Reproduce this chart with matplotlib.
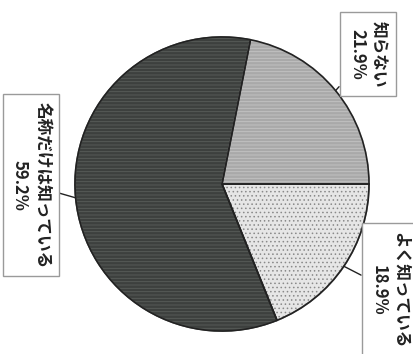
import numpy as np
import matplotlib
matplotlib.use("Agg")
import matplotlib.pyplot as plt
from matplotlib.patches import Wedge

plt.rcParams['font.family'] = ['Noto Sans CJK JP', 'DejaVu Sans']
plt.rcParams['hatch.linewidth'] = 0.6

# Survey answers (clockwise from 3 o'clock)
labels = ['よく知っている', '名称だけは知っている', '知らない']
values = [18.9, 59.2, 21.9]
colors = ['#e6e6e6', '#3d403e', '#a9a9a9']
hatches = ['....', '-----', '-----']
hatch_colors = ['#8a8a8a', '#5a5e5b', '#c4c4c4']

W, H = 414, 354
fig = plt.figure(figsize=(W / 100, H / 100), dpi=100)
ax = fig.add_axes([0, 0, 1, 1])

cx, cy, r = 222, 170, 147
wedges, _ = ax.pie(values, startangle=0, counterclock=False,
                   center=(cx, cy), radius=r, colors=colors,
                   wedgeprops=dict(edgecolor='#222222', linewidth=1.2))
for w, h, hc in zip(wedges, hatches, hatch_colors):
    w.set_hatch(h)
    w.set_edgecolor(hc)
    # dark outline drawn over the hatched face
    ax.add_patch(Wedge((cx, cy), r, w.theta1, w.theta2, facecolor='none',
                       edgecolor='#222222', linewidth=1.2))

ax.set_xlim(0, W)
ax.set_ylim(0, H)
ax.set_aspect('equal')
ax.axis('off')

# label box centres
box_pos = [(390, 64), (31, 169), (368, 300)]
for w, lab, val, pos in zip(wedges, labels, values, box_pos):
    mid = np.deg2rad((w.theta1 + w.theta2) / 2)
    edge = (cx + r * np.cos(mid), cy + r * np.sin(mid))
    ax.annotate(f"{lab}\n{val}%", xy=edge, xytext=pos,
                ha='center', va='center', rotation=-90,
                fontsize=12, fontweight='bold', color='#222222',
                linespacing=1.3,
                bbox=dict(boxstyle='square,pad=0.5', facecolor='white',
                          edgecolor='#9a9a9a', linewidth=1.0),
                arrowprops=dict(arrowstyle='-', color='#222222', lw=1.0,
                                shrinkA=0, shrinkB=0))

fig.savefig('out.png', dpi=100, facecolor='white')
